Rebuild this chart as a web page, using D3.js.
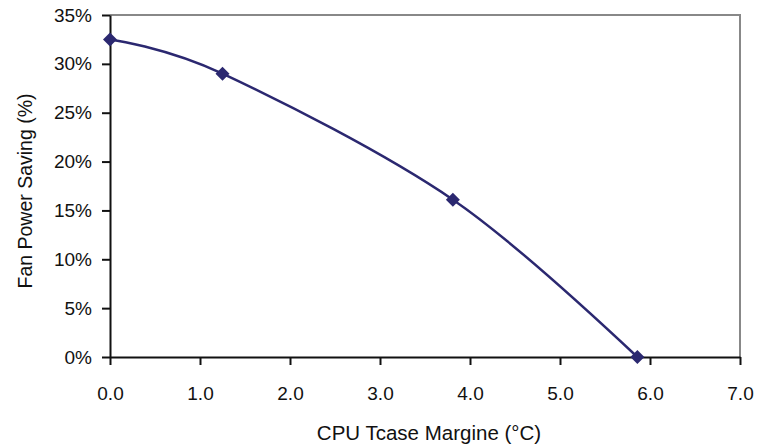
<!DOCTYPE html>
<html>
<head>
<meta charset="utf-8">
<script src="https://cdn.jsdelivr.net/npm/d3@7"></script>
<style>
  body { margin: 0; background: #fff; }
  text { font-family: "Liberation Sans", Arial, sans-serif; fill: #111; }
</style>
</head>
<body>
<script>
// data
const margins = [0.0, 1.25, 3.81, 5.86];
const savings = [32.5, 29.0, 16.1, 0.0];
const xTicks = [0, 1, 2, 3, 4, 5, 6, 7];
const yTicks = [0, 5, 10, 15, 20, 25, 30, 35];

const width = 773;
const height = 445;
const plotLeft = 110, plotRight = 740, plotTop = 15, plotBottom = 357;

const svg = d3.select("body")
  .append("svg")
  .attr("width", width)
  .attr("height", height);

const x = d3.scaleLinear().domain([0, 7]).range([plotLeft, plotRight]);
const y = d3.scaleLinear().domain([0, 35]).range([plotBottom, plotTop]);

// top and right border of the plot box
svg.append("path")
  .attr("d", `M${plotLeft},${plotTop}H${plotRight}V${plotBottom}`)
  .attr("fill", "none")
  .attr("stroke", "#888")
  .attr("stroke-width", 2);

const xAxis = svg.append("g")
  .attr("transform", `translate(0,${plotBottom})`)
  .call(d3.axisBottom(x).tickValues(xTicks).tickSize(8).tickSizeOuter(0).tickPadding(22)
    .tickFormat(d3.format(".1f")));

const yAxis = svg.append("g")
  .attr("transform", `translate(${plotLeft},0)`)
  .call(d3.axisLeft(y).tickValues(yTicks).tickSize(8).tickSizeOuter(0).tickPadding(10)
    .tickFormat(d => d + "%"));

[xAxis, yAxis].forEach(g => {
  g.select(".domain").attr("stroke", "#111").attr("stroke-width", 2);
  g.selectAll(".tick line").attr("stroke", "#111").attr("stroke-width", 2);
  g.selectAll(".tick text").attr("font-size", 19).attr("fill", "#111")
    .attr("font-family", "Liberation Sans, Arial, sans-serif");
});

const pts = margins.map((m, i) => [m, savings[i]]);

const line = d3.line()
  .x(d => x(d[0]))
  .y(d => y(d[1]))
  .curve(d3.curveCardinal.tension(0));

svg.append("path")
  .datum(pts)
  .attr("d", line)
  .attr("fill", "none")
  .attr("stroke", "#2b2870")
  .attr("stroke-width", 2.5);

svg.selectAll(".pt")
  .data(pts)
  .enter()
  .append("path")
  .attr("class", "pt")
  .attr("transform", d => `translate(${x(d[0])},${y(d[1])})`)
  .attr("d", "M0,-7L7,0L0,7L-7,0Z")
  .attr("fill", "#2b2870");

svg.append("text")
  .attr("x", 429)
  .attr("y", 440)
  .attr("text-anchor", "middle")
  .attr("font-size", 20.5)
  .text("CPU Tcase Margine (°C)");

svg.append("text")
  .attr("transform", `translate(32,191) rotate(-90)`)
  .attr("text-anchor", "middle")
  .attr("font-size", 19.5)
  .text("Fan Power Saving (%)");
</script>
</body>
</html>
